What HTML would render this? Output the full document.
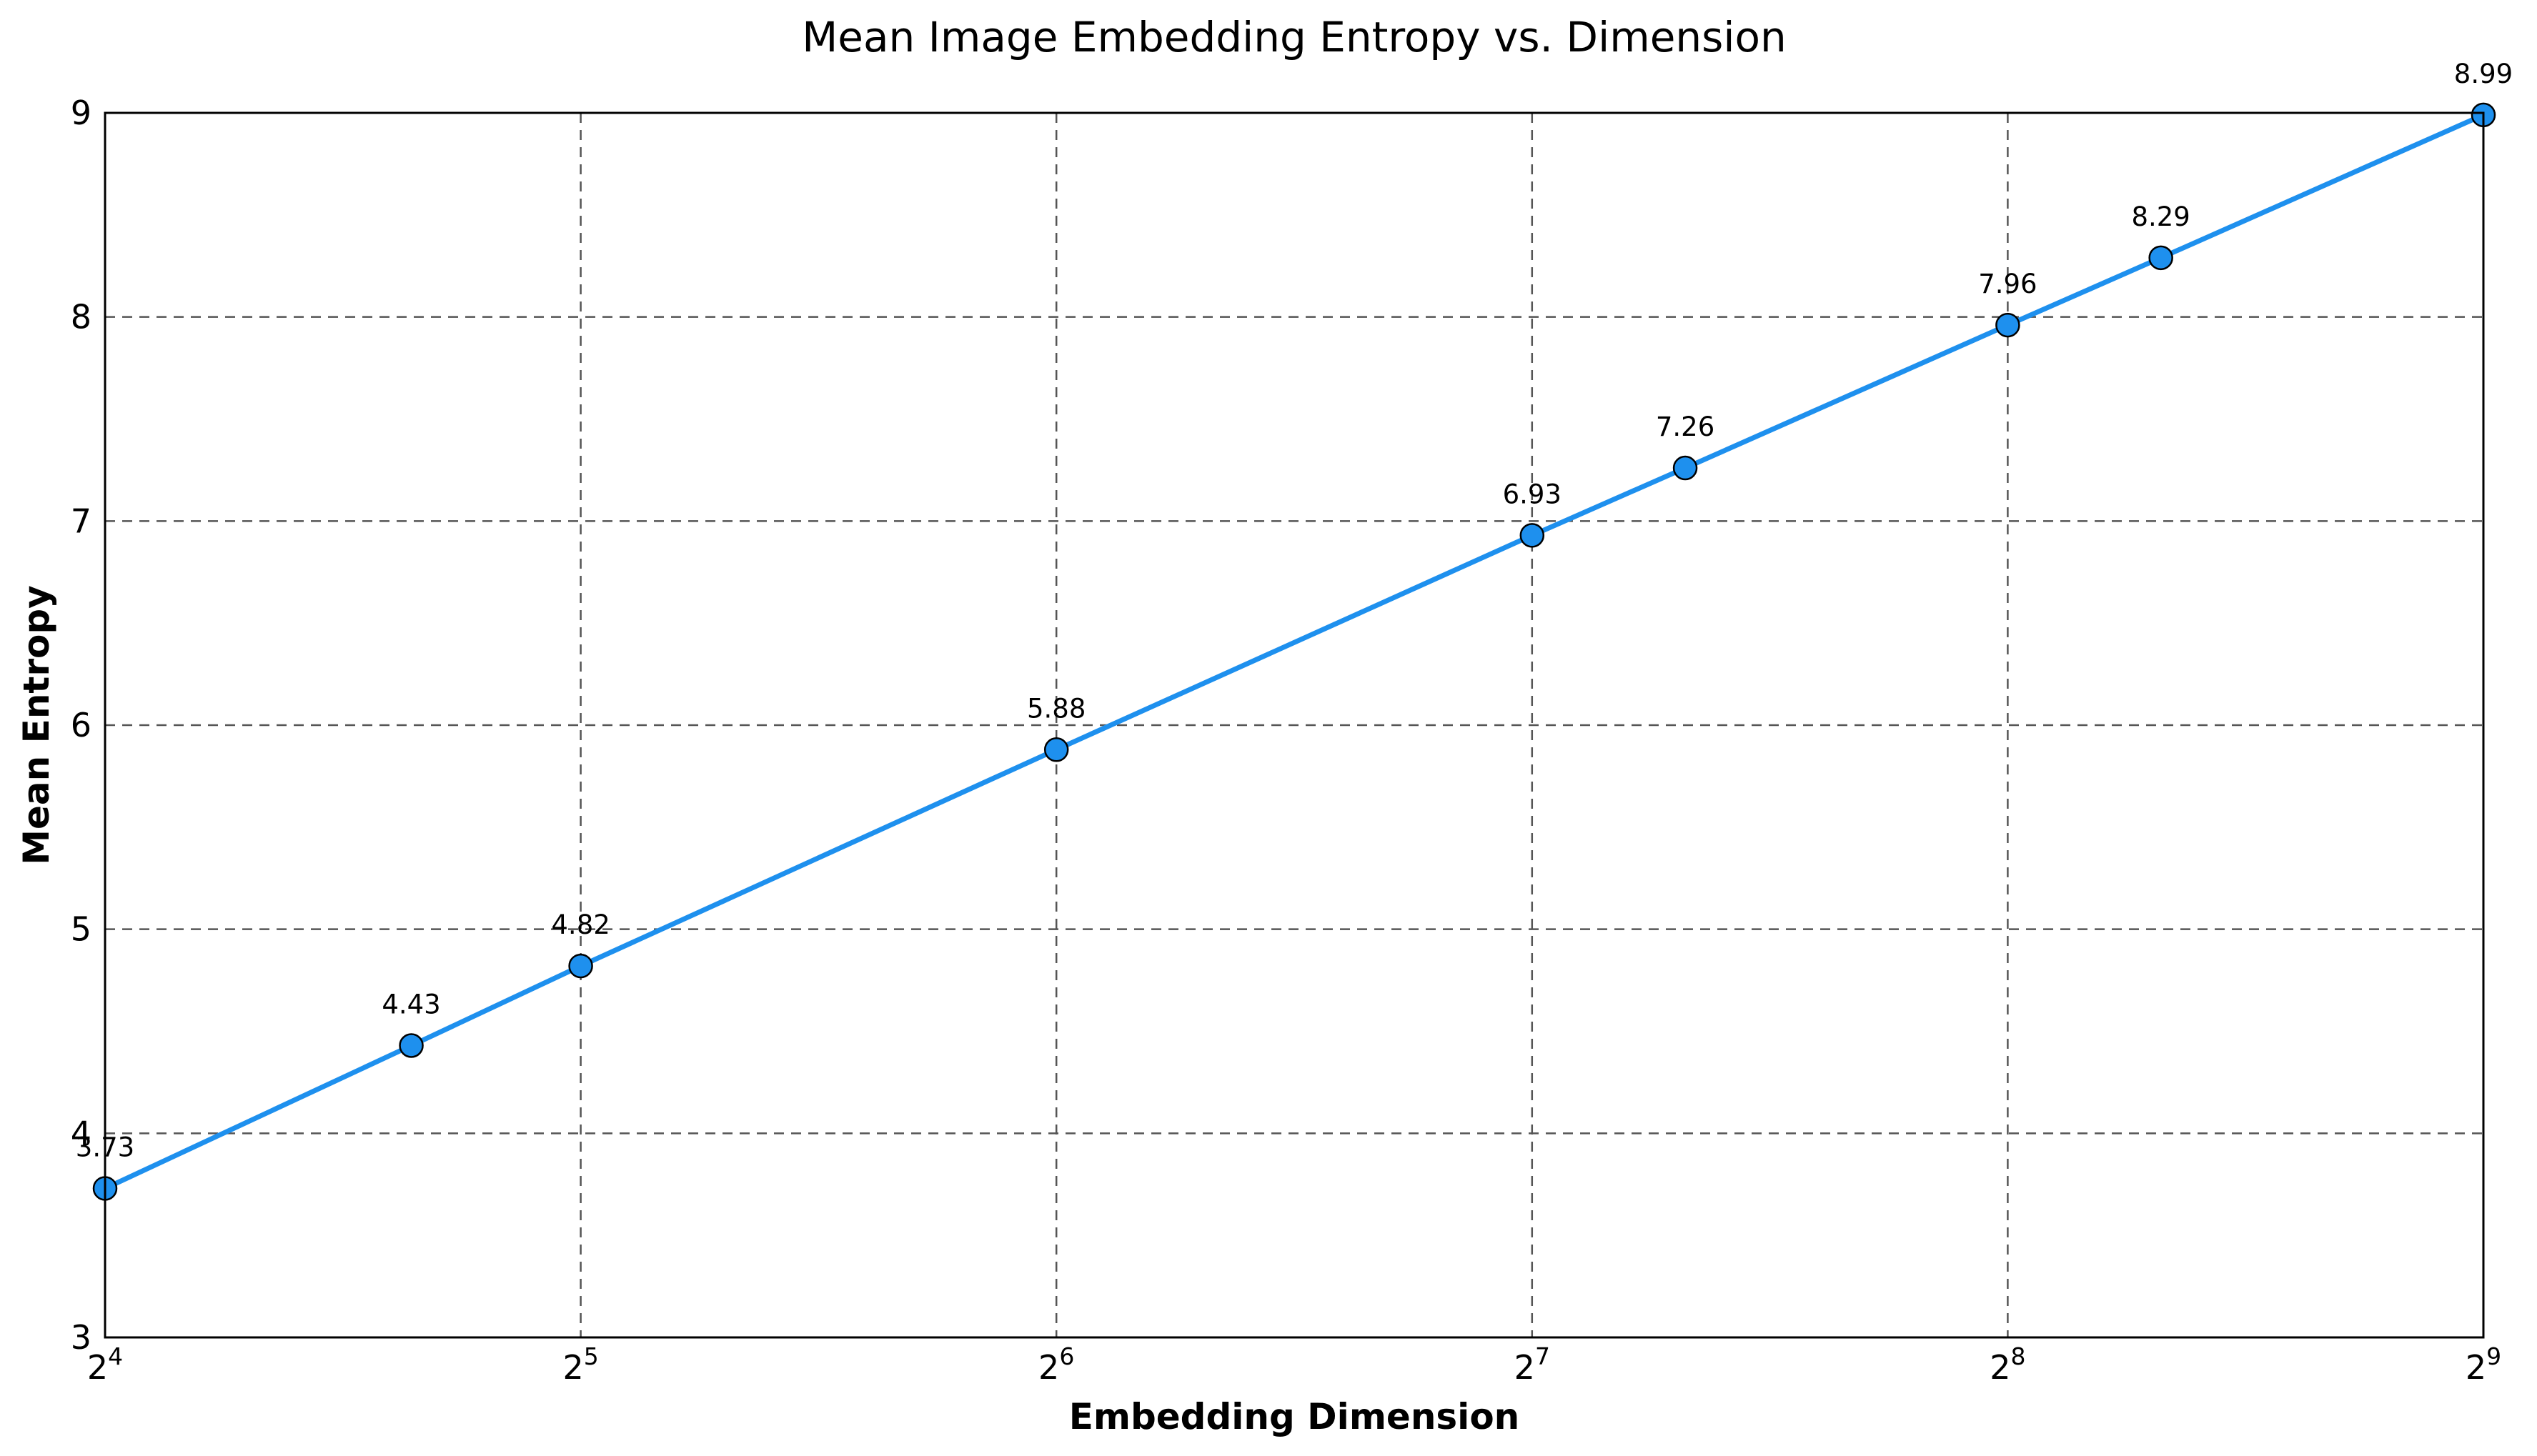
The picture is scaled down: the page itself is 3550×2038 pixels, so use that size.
<!DOCTYPE html>
<html><head><meta charset="utf-8"><style>
html,body{margin:0;padding:0;background:#fff;}
svg{display:block;font-family:"DejaVu Sans","Liberation Sans",sans-serif;}
</style></head><body>
<svg id="chart" width="3550" height="2038" viewBox="0 0 3550 2038">
<text x="1811" y="72" text-anchor="middle" font-size="58">Mean Image Embedding Entropy vs. Dimension</text>
<text x="1811" y="2000" text-anchor="middle" font-size="50" font-weight="bold">Embedding Dimension</text>
<text transform="translate(68,1015) rotate(-90)" text-anchor="middle" font-size="50" font-weight="bold">Mean Entropy</text>
<g id="grid"></g><g id="ticks"></g><g id="series"></g>
<rect x="147" y="158" width="3328" height="1714" fill="none" stroke="#000" stroke-width="3"/>
</svg>
<script>
const dims = [16, 25, 32, 64, 128, 160, 256, 320, 512];
const entropy = [3.73, 4.43, 4.82, 5.88, 6.93, 7.26, 7.96, 8.29, 8.99];
const xTickExps = [4, 5, 6, 7, 8, 9];
const yTicks = [3, 4, 5, 6, 7, 8, 9];
const L=147,R=3475,T=158,B=1872,NS="http://www.w3.org/2000/svg";
const xs=d=>L+(Math.log2(d)-4)/5*(R-L);
const ys=v=>B-(v-3)/6*(B-T);
function mk(tag,attrs,parent,text){const e=document.createElementNS(NS,tag);for(const k in attrs)e.setAttribute(k,attrs[k]);if(text!==undefined)e.textContent=text;parent.appendChild(e);return e;}
const grid=document.getElementById('grid'),ticks=document.getElementById('ticks'),ser=document.getElementById('series');
xTickExps.forEach(p=>{const x=xs(Math.pow(2,p));
 if(p>4&&p<9){const g=mk('line',{x1:x,x2:x,y1:T,y2:B,stroke:'#555','stroke-width':2.5,'stroke-dasharray':'14,10'},grid);
 
 }
 const t=mk('text',{x:x,y:1930,'text-anchor':'middle','font-size':46},ticks);
 
 
 mk('tspan',{},t,'2');mk('tspan',{dy:-20,'font-size':33},t,String(p));
});
yTicks.forEach(v=>{const y=ys(v);
 if(v>3&&v<9){const g=mk('line',{x1:L,x2:R,y1:y,y2:y,stroke:'#555','stroke-width':2.5,'stroke-dasharray':'14,10'},grid);
 
 }
 const t=mk('text',{x:128,y:y+16,'text-anchor':'end','font-size':46},ticks,String(v));
 
 
});
const line=mk('polyline',{points:dims.map((d,i)=>xs(d)+','+ys(entropy[i])).join(' '),fill:'none',stroke:'#1E90EE','stroke-width':7},ser);


dims.forEach((d,i)=>{
 const c=mk('circle',{cx:xs(d),cy:ys(entropy[i]),r:16,fill:'#1E90EE',stroke:'#000','stroke-width':2.5},ser);
 
 
 const t=mk('text',{x:xs(d),y:ys(entropy[i])-45,'text-anchor':'middle','font-size':37},ser,entropy[i].toFixed(2));
 
 
});
</script>
</body></html>
